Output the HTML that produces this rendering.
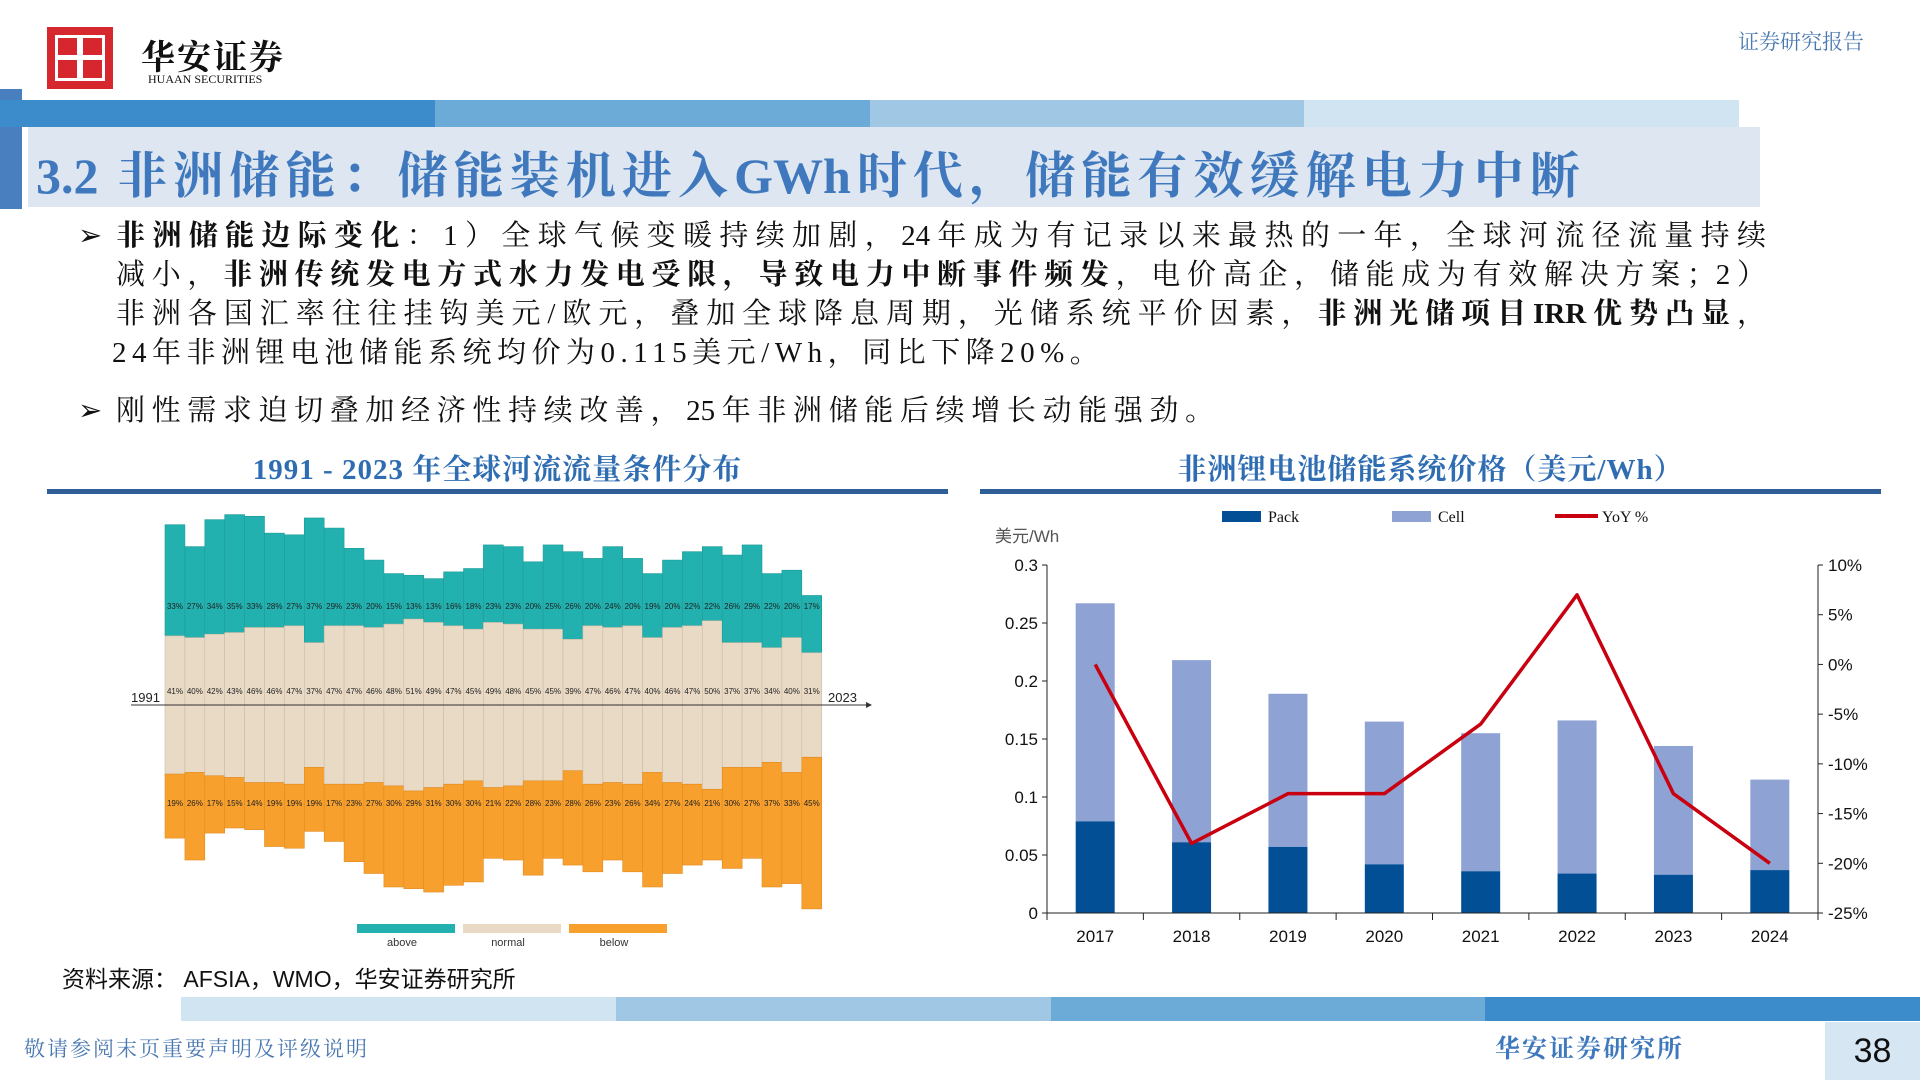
<!DOCTYPE html>
<html><head><meta charset="utf-8">
<style>
body{margin:0;width:1920px;height:1080px;position:relative;background:#fff;overflow:hidden;font-family:"Liberation Serif","Noto Serif CJK SC",serif;}
.abs{position:absolute;}
.b{font-weight:bold;}
.jl{display:block;text-align:justify;text-align-last:justify;white-space:nowrap;}
</style></head><body>
<!-- header -->
<div class="abs" style="left:47px;top:27px;width:66px;height:62px;background:#d6262e;">
  <div class="abs" style="left:8px;top:8px;width:50px;height:46px;border:3px solid #fff;box-sizing:border-box;"></div>
  <div class="abs" style="left:30px;top:8px;width:6px;height:46px;background:#fff;"></div>
  <div class="abs" style="left:8px;top:28px;width:50px;height:5px;background:#fff;"></div>
</div>
<div class="abs" style="left:141px;top:30px;font-size:34px;font-family:'Noto Serif CJK SC',serif;color:#111;font-weight:bold;letter-spacing:2px;">华安证券</div>
<div class="abs" style="left:148px;top:72px;font-size:12px;color:#111;">HUAAN SECURITIES</div>
<div class="abs" style="left:1738px;top:26px;font-size:21px;color:#4a78b0;">证券研究报告</div>

<div class="abs" style="left:0;top:89px;width:22px;height:120px;background:#4a7fbf;"></div>
<div class="abs" style="left:0;top:100px;width:1739px;height:27px;display:flex;">
  <div style="flex:1;background:#3c8ccb"></div><div style="flex:1;background:#6caad8"></div><div style="flex:1;background:#a0c7e4"></div><div style="flex:1;background:#d0e4f2"></div>
</div>
<div class="abs" style="left:28px;top:127px;width:1732px;height:80px;background:rgba(200,215,232,0.6);"></div>
<div class="abs jl" style="left:36px;top:136px;width:1544px;font-size:50px;color:#3f78bd;font-weight:bold;font-family:'Liberation Serif','Noto Serif CJK SC',serif;">3.2 非洲储能：储能装机进入GWh时代，储能有效缓解电力中断</div>

<!-- bullets -->
<div class="abs" style="left:78px;top:217px;font-size:29px;line-height:39px;color:#111;">
 <span style="position:absolute;left:0;">➢</span>
 <div style="margin-left:38px;width:1650px;">
  <span class="jl"><span class="b">非洲储能边际变化</span>：1）全球气候变暖持续加剧，24年成为有记录以来最热的一年，全球河流径流量持续</span>
  <span class="jl">减小，<span class="b">非洲传统发电方式水力发电受限，导致电力中断事件频发</span>，电价高企，储能成为有效解决方案；2）</span>
  <span class="jl">非洲各国汇率往往挂钩美元/欧元，叠加全球降息周期，光储系统平价因素，<span class="b">非洲光储项目IRR优势凸显</span>，</span>
  <span style="display:block;letter-spacing:5.5px;margin-left:-4px;">24年非洲锂电池储能系统均价为0.115美元/Wh，同比下降20%。</span>
 </div>
</div>
<div class="abs" style="left:78px;top:392px;font-size:29px;line-height:39px;color:#111;">
 <span style="position:absolute;left:0;">➢</span>
 <span class="jl" style="margin-left:38px;width:1098px;">刚性需求迫切叠加经济性持续改善，25年非洲储能后续增长动能强劲。</span>
</div>

<!-- chart titles -->
<div class="abs" style="left:47px;width:901px;top:447px;text-align:center;font-size:29px;color:#2f6db3;font-weight:bold;letter-spacing:1px;">1991 - 2023 年全球河流流量条件分布</div>
<div class="abs" style="left:47px;top:489px;width:901px;height:5px;background:#2e5f97;"></div>
<div class="abs" style="left:980px;width:901px;top:447px;text-align:center;font-size:29px;color:#2f6db3;font-weight:bold;letter-spacing:1px;">非洲锂电池储能系统价格（美元/Wh）</div>
<div class="abs" style="left:980px;top:489px;width:901px;height:5px;background:#2e5f97;"></div>

<svg class="abs" style="left:0;top:0" width="1920" height="1080" id="charts">
  <g id="left"></g><g id="right"></g>
</svg>

<!-- footer -->
<div class="abs" style="left:62px;top:960px;font-size:23px;color:#111;font-family:'Liberation Sans','Noto Sans CJK SC',sans-serif;">资料来源： AFSIA，WMO，华安证券研究所</div>
<div class="abs" style="left:181px;top:997px;width:1739px;height:24px;display:flex;">
  <div style="flex:1;background:#d0e4f2"></div><div style="flex:1;background:#a0c7e4"></div><div style="flex:1;background:#6caad8"></div><div style="flex:1;background:#3c8ccb"></div>
</div>
<div class="abs" style="left:24px;top:1033px;font-size:21px;color:#4a78b0;letter-spacing:2px;">敬请参阅末页重要声明及评级说明</div>
<div class="abs" style="left:1495px;top:1029px;font-size:25px;color:#3f78bd;font-weight:bold;letter-spacing:2px;">华安证券研究所</div>
<div class="abs" style="left:1825px;top:1022px;width:95px;height:58px;background:#d6e6f3;font-family:'Liberation Sans',sans-serif;font-size:34px;color:#111;text-align:center;line-height:58px;">38</div>

<script>
// ---- left chart data ----
const years = [1991,1992,1993,1994,1995,1996,1997,1998,1999,2000,2001,2002,2003,2004,2005,2006,2007,2008,2009,2010,2011,2012,2013,2014,2015,2016,2017,2018,2019,2020,2021,2022,2023];
const above = [33,27,34,35,33,28,27,37,29,23,20,15,13,13,16,18,23,23,20,25,26,20,24,20,19,20,22,22,26,29,22,20,17];
const normal = [41,40,42,43,46,46,47,37,47,47,46,48,51,49,47,45,49,48,45,45,39,47,46,47,40,46,47,50,37,37,34,40,31];
const below = [19,26,17,15,14,19,19,19,17,23,27,30,29,31,30,30,21,22,28,23,28,26,23,26,34,27,24,21,30,27,37,33,45];
// ---- right chart data ----
const priceYears = ['2017','2018','2019','2020','2021','2022','2023','2024'];
const packVals = [0.079,0.061,0.057,0.042,0.036,0.034,0.033,0.037];
const totalVals = [0.267,0.218,0.189,0.165,0.155,0.166,0.144,0.115];
const yoyVals = [0,-18,-13,-13,-6,7,-13,-20];
const leftTicks = [0,0.05,0.1,0.15,0.2,0.25,0.3];
const rightTicks = [-25,-20,-15,-10,-5,0,5,10];

const NS='http://www.w3.org/2000/svg';
function mk(parent,tag,attrs){const e=document.createElementNS(NS,tag);for(const k in attrs)e.setAttribute(k,attrs[k]);parent.appendChild(e);return e;}

// left chart
const L=document.getElementById('left');
const lx0=165, bw=19.9, axisY=705, pxPer=3.37;
const lxs=i=>lx0+i*bw;
const ly=p=>p*pxPer;
years.forEach((y,i)=>{
  const x=lxs(i), n=ly(normal[i]);
  let r=mk(L,'rect',{x:x,y:axisY-n/2-ly(above[i]),width:bw,height:ly(above[i]),fill:'#22b1af',stroke:'#1e9c9a','stroke-width':0.6});
  
  
  r=mk(L,'rect',{x:x,y:axisY-n/2,width:bw,height:n,fill:'#e9dac6',stroke:'#cbb9a4','stroke-width':0.6});
  
  
  r=mk(L,'rect',{x:x,y:axisY+n/2,width:bw,height:ly(below[i]),fill:'#f8a02e',stroke:'#e08a20','stroke-width':0.6});
  
  
  const cx=x+bw/2;
  [above[i],normal[i],below[i]].forEach((v,k)=>{
    const t=mk(L,'text',{x:cx,y:[609,694,806][k],'font-size':8,'text-anchor':'middle',fill:'#222','font-family':'Liberation Sans Narrow, Liberation Sans, sans-serif'});
    t.textContent=v+'%';
    
    
  });
});
let ax=mk(L,'line',{x1:131,y1:axisY,x2:866,y2:axisY,stroke:'#333','stroke-width':1});


let ah=mk(L,'path',{d:`M866 ${axisY-3} L872 ${axisY} L866 ${axisY+3} Z`,fill:'#333'});


let t1=mk(L,'text',{x:131,y:axisY-3,'font-size':13,fill:'#222','font-family':'Liberation Sans, sans-serif'});t1.textContent=years[0];


let t2=mk(L,'text',{x:828,y:axisY-3,'font-size':13,fill:'#222','font-family':'Liberation Sans, sans-serif'});t2.textContent=years[years.length-1];


[['above','#22b1af',357],['normal','#e9dac6',463],['below','#f8a02e',569]].forEach(l=>{
  const r=mk(L,'rect',{x:l[2],y:924,width:98,height:9,fill:l[1]});
  
  
  const t=mk(L,'text',{x:l[2]+45,y:946,'font-size':11,'text-anchor':'middle',fill:'#333','font-family':'Liberation Sans, sans-serif'});t.textContent=l[0];
  
  
});

// right chart
const R=document.getElementById('right');
const px0=1047, px1=1818, py0=913, py1=565;
const band=(px1-px0)/priceYears.length;
const xc=i=>px0+band*(i+0.5);
const yL=v=>py0-(v/0.3)*(py0-py1);
const yR=v=>py0-((v+25)/35)*(py0-py1);
const sans='Liberation Sans Narrow, Liberation Sans, sans-serif';
priceYears.forEach((y,i)=>{
  let r=mk(R,'rect',{x:xc(i)-19.5,y:yL(totalVals[i]),width:39,height:yL(packVals[i])-yL(totalVals[i]),fill:'#8fa2d4'});
  
  
  r=mk(R,'rect',{x:xc(i)-19.5,y:yL(packVals[i]),width:39,height:py0-yL(packVals[i]),fill:'#034f96'});
  
  
  const t=mk(R,'text',{x:xc(i),y:942,'font-size':17,'text-anchor':'middle',fill:'#111','font-family':sans});t.textContent=y;
  
  
});
for(let i=0;i<=priceYears.length;i++){const tk=mk(R,'line',{x1:px0+band*i,y1:py0,x2:px0+band*i,y2:py0+7,stroke:'#222'});}
let axL=mk(R,'line',{x1:px0,y1:py1,x2:px0,y2:py0,stroke:'#222'});
let axR=mk(R,'line',{x1:px1,y1:py1,x2:px1,y2:py0,stroke:'#222'});
let axB=mk(R,'line',{x1:px0,y1:py0,x2:px1,y2:py0,stroke:'#222'});
leftTicks.forEach(v=>{
  const tk=mk(R,'line',{x1:px0-5,y1:yL(v),x2:px0,y2:yL(v),stroke:'#222'});
  const t=mk(R,'text',{x:px0-9,y:yL(v)+6,'font-size':17,'text-anchor':'end',fill:'#111','font-family':sans});t.textContent=v;
  
});
rightTicks.forEach(v=>{
  const tk=mk(R,'line',{x1:px1,y1:yR(v),x2:px1+5,y2:yR(v),stroke:'#222'});
  const t=mk(R,'text',{x:px1+10,y:yR(v)+6,'font-size':17,fill:'#111','font-family':sans});t.textContent=v+'%';
  
});
const pl=mk(R,'polyline',{points:yoyVals.map((v,i)=>xc(i)+','+yR(v)).join(' '),fill:'none',stroke:'#c8000f','stroke-width':3.5,'stroke-linejoin':'round'});


let un=mk(R,'text',{x:995,y:542,'font-size':17,fill:'#555','font-family':'Liberation Sans, Noto Sans CJK SC, sans-serif'});un.textContent='美元/Wh';

[['pack','Pack',1222,'#034f96'],['cell','Cell',1392,'#8fa2d4']].forEach(l=>{
  const r=mk(R,'rect',{x:l[2],y:511,width:39,height:11,fill:l[3]});
  
  const t=mk(R,'text',{x:l[2]+46,y:522,'font-size':16,fill:'#111','font-family':'Liberation Serif, serif'});t.textContent=l[1];
  
});
let ll=mk(R,'line',{x1:1555,y1:516,x2:1598,y2:516,stroke:'#c8000f','stroke-width':4});

let lt=mk(R,'text',{x:1602,y:522,'font-size':16,fill:'#111','font-family':'Liberation Serif, serif'});lt.textContent='YoY %';

</script>
</body></html>
